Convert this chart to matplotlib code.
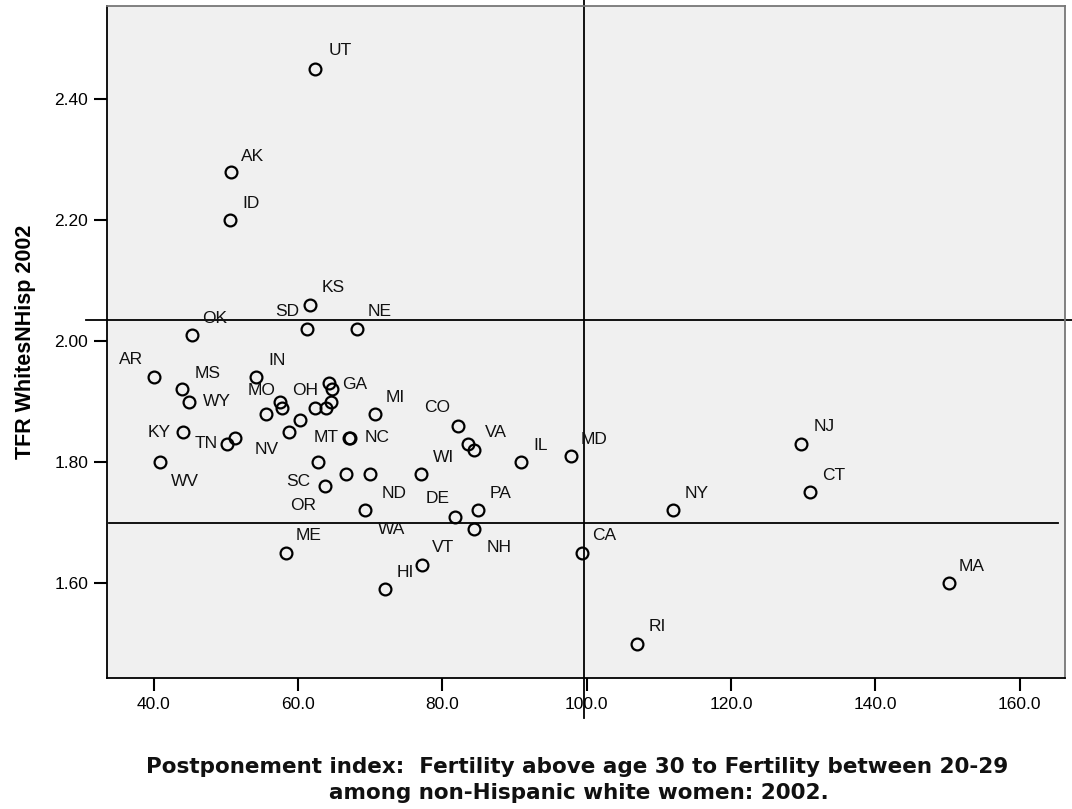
import matplotlib
matplotlib.use('Agg')
import matplotlib.pyplot as plt

# postponement index and TFR for non-Hispanic whites, 2002 ('' = point drawn without a label)
states = ['UT', 'AK', 'ID', 'KS', 'SD', 'NE', 'OK', 'AR', 'MS', 'WY',
          'KY', 'TN', '', 'WV', 'IN', 'MO', 'OH', '', '', 'NV',
          '', '', 'GA', '', '', 'MT', 'NC', 'SC', '', 'ND',
          'WI', 'OR', 'WA', 'DE', 'PA', 'NH', 'MI', 'CO', 'VA', '',
          'IL', 'MD', 'ME', 'VT', 'HI', 'CA', 'NY', 'NJ', 'CT', 'MA', 'RI']
postpone = [62.3, 50.7, 50.5, 61.6, 61.2, 68.1, 45.3, 40.0, 43.9, 44.8,
            44.0, 50.2, 51.2, 40.8, 54.1, 57.5, 57.8, 55.6, 60.3, 58.7,
            62.3, 63.9, 64.3, 64.7, 64.5, 67.0, 67.2, 62.8, 66.7, 69.9,
            77.0, 63.7, 69.3, 81.8, 84.9, 84.4, 70.6, 82.2, 83.6, 84.4,
            90.9, 97.8, 58.3, 77.2, 72.0, 99.3, 112.0, 129.7, 131.0, 150.2, 106.9]
tfr = [2.45, 2.28, 2.20, 2.06, 2.02, 2.02, 2.01, 1.94, 1.92, 1.90,
       1.85, 1.83, 1.84, 1.80, 1.94, 1.90, 1.89, 1.88, 1.87, 1.85,
       1.89, 1.89, 1.93, 1.92, 1.90, 1.84, 1.84, 1.80, 1.78, 1.78,
       1.78, 1.76, 1.72, 1.71, 1.72, 1.69, 1.88, 1.86, 1.83, 1.82,
       1.80, 1.81, 1.65, 1.63, 1.59, 1.65, 1.72, 1.83, 1.75, 1.60, 1.50]

x_ref = 99.6
y_ref_hi = 2.035
y_ref_lo = 1.70

xticks = [40, 60, 80, 100, 120, 140, 160]
yticks = [1.60, 1.80, 2.00, 2.20, 2.40]

xlabel_lines = ['Postponement index:  Fertility above age 30 to Fertility between 20-29',
                'among non-Hispanic white women: 2002.']

# label offsets in pixels (right, up); everything else gets the default
default_off = (23, 17)
label_off = {
    'SD': (-20, 17), 'AR': (-23, 18), 'MS': (26, 16), 'WY': (28, 0),
    'KY': (-24, -1), 'TN': (-21, 0), 'WV': (25, -19), 'MO': (-19, 11),
    'GA': (26, -1), 'CO': (-21, 18), 'VA': (28, 11), 'NV': (-22, -18),
    'MT': (-23, 0), 'NC': (27, 0), 'SC': (-20, -19), 'OR': (-22, -19),
    'ND': (25, -19), 'WA': (26, -19), 'DE': (-18, 18), 'NH': (25, -19),
    'AK': (21, 15), 'ID': (21, 17), 'UT': (25, 18), 'IN': (21, 17),
    'MI': (21, 16), 'IL': (20, 17), 'RI': (21, 17), 'VT': (21, 17),
    'HI': (21, 17),
}

fig = plt.figure(figsize=(10.72, 8.09), dpi=100)
ax = fig.add_axes([0.0998, 0.1619, 0.8937, 0.8307])
ax.set_facecolor('#f0f0f0')

ax.plot(postpone, tfr, 'o', mfc='none', mec='black', ms=8.5, mew=1.6, zorder=3)

for s, x, y in zip(states, postpone, tfr):
    if not s:
        continue
    dx, dy = label_off.get(s, default_off)
    ax.annotate(s, (x, y), xytext=(dx, dy), textcoords='offset pixels',
                ha='center', va='center', fontsize=12.5, family='Liberation Sans',
                color='#111111', zorder=4)

# reference lines
ax.axhline(y_ref_hi, xmin=-0.022, xmax=1.008, color='black', lw=1.3, clip_on=False)
ax.axhline(y_ref_lo, xmin=0.002, xmax=0.993, color='black', lw=1.3)
ax.axvline(x_ref, ymin=-0.06, ymax=1.01, color='black', lw=1.3, clip_on=False)

ax.set_xlim(33.5, 166.3)
ax.set_ylim(1.443, 2.554)
ax.set_xticks(xticks)
ax.set_yticks(yticks)
ax.set_xticklabels([f'{v:.1f}' for v in xticks])
ax.set_yticklabels([f'{v:.2f}' for v in yticks])
ax.tick_params(direction='out', length=9.5, width=1.5, labelsize=12.5, colors='black', pad=4)
for lab in ax.get_xticklabels() + ax.get_yticklabels():
    lab.set_family('Liberation Sans')

for side in ['left', 'bottom']:
    ax.spines[side].set_color('black')
    ax.spines[side].set_linewidth(1.3)
for side in ['top', 'right']:
    ax.spines[side].set_color('#777777')
    ax.spines[side].set_linewidth(1.3)

ax.set_ylabel('TFR WhitesNHisp 2002', fontsize=15.5, fontweight='bold',
              family='Liberation Sans', labelpad=13)

fig.text(0.538, 1 - 767 / 809, xlabel_lines[0], ha='center', va='center',
         fontsize=15.5, fontweight='bold', family='DejaVu Sans', color='#111111')
fig.text(0.540, 1 - 793 / 809, xlabel_lines[1], ha='center', va='center',
         fontsize=15.5, fontweight='bold', family='DejaVu Sans', color='#111111')

fig.savefig('out.png', dpi=100)
